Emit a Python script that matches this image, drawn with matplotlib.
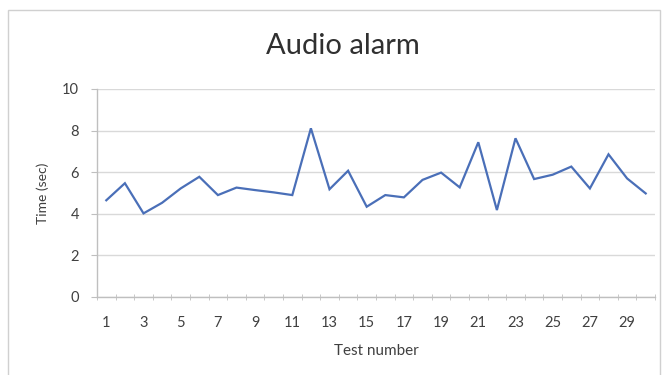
import matplotlib
matplotlib.use("Agg")
import matplotlib.pyplot as plt
from matplotlib.patches import Rectangle
import numpy as np

# Response time per test run of the audio alarm
test_numbers = list(range(1, 31))
times_sec = [4.65, 5.47, 4.02, 4.53, 5.22, 5.78, 4.90, 5.26, 5.14, 5.03,
             4.90, 8.11, 5.18, 6.07, 4.34, 4.90, 4.79, 5.63, 5.98, 5.27,
             7.44, 4.18, 7.63, 5.67, 5.88, 6.27, 5.22, 6.86, 5.70, 4.98]
x_tick_labels = [str(n) for n in range(1, 30, 2)]
y_ticks = [0, 2, 4, 6, 8, 10]

plt.rcParams['font.family'] = ['Lato', 'DejaVu Sans']

fig = plt.figure(figsize=(6.65, 3.75), dpi=100)
fig.patch.set_facecolor('white')

# chart-area border
fig.patches.append(Rectangle((8 / 665, -0.05), 652 / 665, 1 - 10 / 375 + 0.05,
                             transform=fig.transFigure, fill=False,
                             edgecolor='#d0d0d0', linewidth=1.0))

ax = fig.add_axes([97 / 665, 1 - 297 / 375, 558 / 665, 208 / 375])
ax.plot(test_numbers, times_sec, color='#4a6fb8', linewidth=1.6,
        solid_joinstyle='miter')

ax.set_xlim(0.5, 30.5)
ax.set_ylim(0, 10)
ax.set_yticks(y_ticks)
ax.set_xticks(range(1, 30, 2))
ax.set_xticklabels(x_tick_labels)
ax.set_xticks(np.arange(0.5, 31, 1), minor=True)

ax.grid(axis='y', color='#d9d9d9', linewidth=1.0)
ax.set_axisbelow(True)
for side in ('top', 'right'):
    ax.spines[side].set_visible(False)
for side in ('left', 'bottom'):
    ax.spines[side].set_color('#bfbfbf')
    ax.spines[side].set_linewidth(1.0)

ax.tick_params(axis='x', which='major', length=0, pad=14,
               labelsize=10.5, labelcolor='#404040')
ax.tick_params(axis='x', which='minor', length=5, direction='inout',
               color='#bfbfbf')
ax.tick_params(axis='y', length=4, direction='out', color='#bfbfbf',
               labelsize=10.5, labelcolor='#404040', pad=9)

fig.text(343 / 665, 1 - 46 / 375, 'Audio alarm', fontsize=21, color='#303030',
         ha='center', va='center')
ax.set_xlabel('Test number', fontsize=11, color='#404040', labelpad=10)
ax.set_ylabel('Time (sec)', fontsize=10, color='#404040', labelpad=9)

fig.savefig('out.png', dpi=100, facecolor='white')
